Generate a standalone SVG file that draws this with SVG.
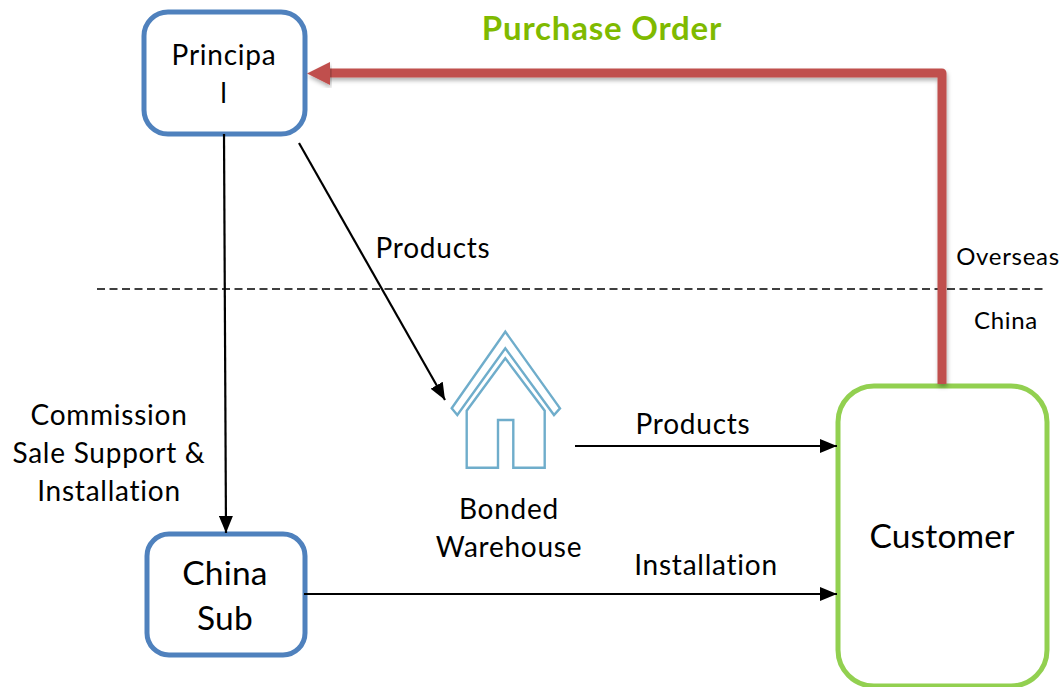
<svg xmlns="http://www.w3.org/2000/svg" width="1063" height="687" viewBox="0 0 1063 687">
<style>
text{font-family:"Lato","Carlito","Open Sans",sans-serif;fill:#000;text-anchor:middle}
.t28{font-size:28px;letter-spacing:.75px}
.t34{font-size:33.5px;letter-spacing:.2px}
.t24{font-size:24px;letter-spacing:.7px}
.box{fill:#fff;stroke-width:5}
.blue{stroke:#4f81bd}
.green{stroke:#92d050}
.wire{fill:none;stroke:#000;stroke-width:2.2}
.house{fill:#fff;stroke:#6fadcb;stroke-width:2.4;stroke-linejoin:miter}
</style>
<defs>
<marker id="ah" markerUnits="userSpaceOnUse" markerWidth="18" markerHeight="14" refX="17" refY="7" orient="auto"><path d="M0 0L17 7L0 14z" fill="#000"/></marker>
<filter id="sh" x="-5%" y="-5%" width="110%" height="115%"><feDropShadow dx="1" dy="3" stdDeviation="2" flood-color="#000" flood-opacity=".3"/></filter>
</defs>
<g id="divider"><path d="M97 289H1045" fill="none" stroke="#000" stroke-width="1.6" stroke-dasharray="8 4.5"/></g>
<g id="node-principal"><rect class="box blue" x="144" y="12" width="161" height="122" rx="24"/><text class="t28" x="224" y="65">Principa</text><text class="t28" x="224" y="103">l</text></g>
<g id="node-china-sub"><rect class="box blue" x="147" y="534" width="158" height="121" rx="22"/><text class="t34" x="225" y="585">China</text><text class="t34" x="225" y="630">Sub</text></g>
<g id="node-customer"><rect class="box green" x="838" y="386" width="209" height="300" rx="36"/><text class="t34" x="942" y="548">Customer</text></g>
<g id="node-warehouse">
<path class="house" d="M505.3 358.3L466.7 410.7V467.7H498V420H513.3V467.7H544.7V410.7Z"/>
<path class="house" d="M505.3 331.7L451.7 408.3L457.3 415L505.3 348.3L554 415L560 408.3Z"/>
<text class="t28" x="509" y="519">Bonded</text><text class="t28" x="509" y="557">Warehouse</text>
</g>
<g id="connectors">
<path d="M942 384V73H326" fill="none" stroke="#c0504d" stroke-width="9" stroke-linejoin="round" filter="url(#sh)"/>
<path d="M307 73.500L330 62V85Z" fill="#c0504d" filter="url(#sh)"/>
<path class="wire" marker-end="url(#ah)" d="M224 134L226 533"/>
<path class="wire" marker-end="url(#ah)" d="M299 143L445 400"/>
<path class="wire" marker-end="url(#ah)" d="M575 446H837"/>
<path class="wire" marker-end="url(#ah)" d="M304 594H837"/>
</g>
<g id="labels">
<text x="602" y="40" font-size="33" font-weight="700" letter-spacing=".8" style="fill:#7fba00">Purchase Order</text>
<text class="t28" x="433" y="258">Products</text>
<text class="t28" x="693" y="434">Products</text>
<text class="t28" x="706" y="575">Installation</text>
<text class="t28" x="109" y="425">Commission</text>
<text class="t28" x="109" y="463">Sale Support &amp;</text>
<text class="t28" x="109" y="501">Installation</text>
<text class="t24" x="1008" y="265">Overseas</text>
<text class="t24" x="1006" y="329">China</text>
</g>
</svg>
